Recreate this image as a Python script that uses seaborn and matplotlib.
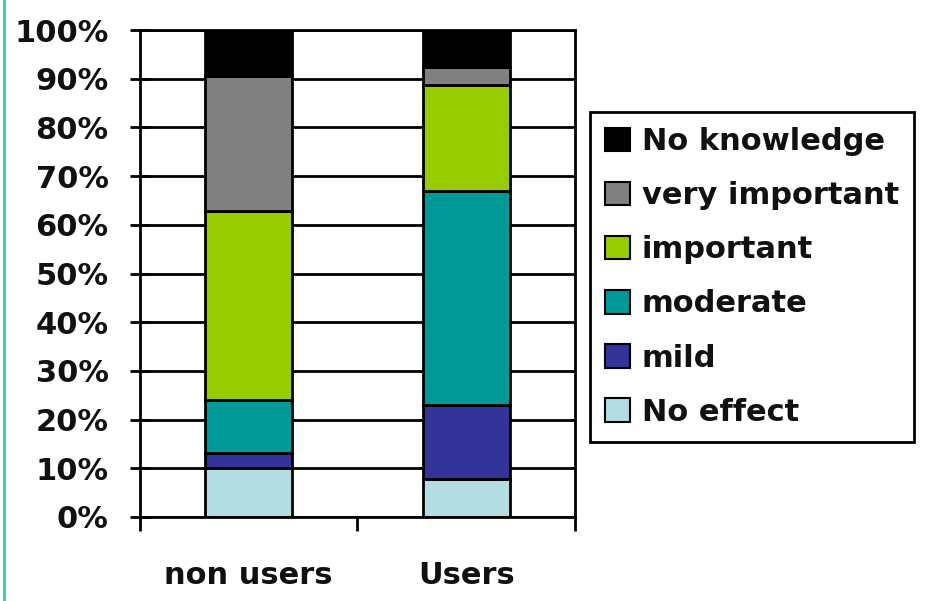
import matplotlib
matplotlib.use("Agg")
import matplotlib.pyplot as plt
import seaborn as sns
import pandas as pd
import numpy as np
from matplotlib.lines import Line2D
from matplotlib.patches import Patch

categories = ["non users", "Users"]
series_names = ["No effect", "mild", "moderate", "important", "very important", "No knowledge"]
no_effect = [10.0, 7.9]
mild = [3.2, 15.0]
moderate = [10.8, 44.1]
important = [38.9, 21.7]
very_important = [27.6, 3.8]
no_knowledge = [9.5, 7.5]
colors = ["#B3DDE3", "#333399", "#009999", "#99CC00", "#808080", "#000000"]
ytick_labels = ["0%", "10%", "20%", "30%", "40%", "50%", "60%", "70%", "80%", "90%", "100%"]

series = [no_effect, mild, moderate, important, very_important, no_knowledge]

sns.set_theme(style="white")
FAM = ['DejaVu Sans']
plt.rcParams['font.family'] = FAM
plt.rcParams['font.weight'] = 'bold'

fig = plt.figure(figsize=(9.28, 6.01), dpi=100)
ax = fig.add_axes([140/928, 1-517/601, 435/928, 487/601])

bottom = np.zeros(len(categories))
for name, vals, c in zip(series_names, series, colors):
    df = pd.DataFrame({"cat": categories, "val": vals})
    sns.barplot(data=df, x="cat", y="val", color=c, bottom=bottom, width=0.4,
                edgecolor="black", linewidth=2, ax=ax, label=name, saturation=1)
    bottom = bottom + np.array(vals)

ax.set_xlim(-0.5, 1.5)
ax.set_ylim(0, 100)
ax.set_yticks(np.arange(0, 101, 10))
ax.set_yticklabels(ytick_labels, fontsize=22, fontweight='bold', color='#111111')
ax.set_xticks([0, 1])
ax.set_xticklabels(categories, fontsize=22, fontweight='bold', color='#111111')
ax.set_xticks([-0.5, 0.5, 1.5], minor=True)
ax.tick_params(axis='x', which='major', length=0, pad=32)
ax.tick_params(axis='x', which='minor', length=10, width=2, direction='out', color='black', bottom=True)
ax.tick_params(axis='y', which='major', length=15, width=2, direction='inout', color='black', pad=15, left=True)
ax.set_xlabel("")
ax.set_ylabel("")
ax.yaxis.grid(True, color='black', linewidth=2)
ax.xaxis.grid(False)
ax.set_axisbelow(True)
for s in ax.spines.values():
    s.set_color('black')
    s.set_linewidth(2)
if ax.get_legend() is not None:
    ax.get_legend().remove()

handles = [Patch(facecolor=c, edgecolor='black', linewidth=1.5, label=n) for n, c in zip(series_names, colors)][::-1]
leg = fig.legend(handles=handles, loc='upper left', bbox_to_anchor=(590/928, 1-112/601),
                 prop={'family': FAM, 'weight': 'bold', 'size': 22},
                 frameon=True, fancybox=False, edgecolor='black', framealpha=1,
                 handlelength=0.8, handleheight=0.8, handletextpad=0.4, labelspacing=0.82,
                 borderpad=0.5, borderaxespad=0)
leg.get_frame().set_linewidth(2)
for t in leg.get_texts():
    t.set_color('#111111')

fig.add_artist(Line2D([4/928, 4/928], [0, 1], color="#2ECDB0", linewidth=2, transform=fig.transFigure))

fig.savefig("out.png", dpi=100, facecolor='white')
